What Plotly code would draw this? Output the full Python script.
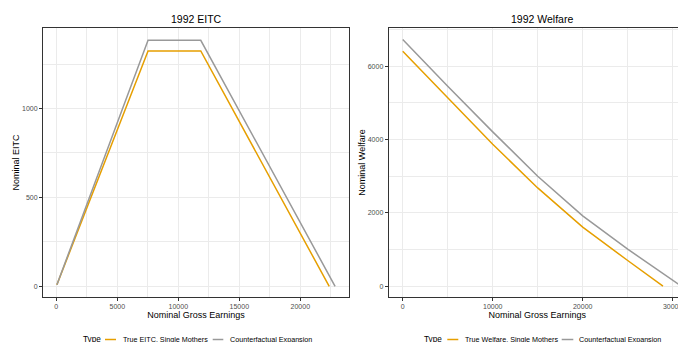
import plotly.graph_objects as go

# ---- data ----
eitc_earn_true = [50, 7520, 11840, 22370]
eitc_true = [9, 1324, 1324, 0]
eitc_earn_cf = [50, 7520, 11840, 22850]
eitc_cf = [9, 1384, 1384, 0]

wel_earn_true = [0, 5000, 10000, 15000, 20000, 25000, 28920]
wel_true = [6410, 5140, 3870, 2680, 1610, 700, 0]
wel_earn_cf = [0, 5000, 10000, 15000, 20000, 25000, 30970]
wel_cf = [6730, 5455, 4210, 3000, 1920, 1010, 0]

titles = ["1992 EITC", "1992 Welfare"]
legend_title = "Type"
left_names = ["True EITC, Single Mothers", "Counterfactual Expansion"]
right_names = ["True Welfare, Single Mothers", "Counterfactual Expansion"]

ORANGE = "#E69F00"
GREY = "#999999"
FONT = "Liberation Sans, Arial, sans-serif"

fig = go.Figure()
fig.add_trace(go.Scatter(x=eitc_earn_true, y=eitc_true, mode="lines", name=left_names[0],
                         line=dict(color=ORANGE, width=1.5), xaxis="x", yaxis="y", showlegend=False))
fig.add_trace(go.Scatter(x=eitc_earn_cf, y=eitc_cf, mode="lines", name=left_names[1],
                         line=dict(color=GREY, width=1.5), xaxis="x", yaxis="y", showlegend=False))
fig.add_trace(go.Scatter(x=wel_earn_true, y=wel_true, mode="lines", name=right_names[0],
                         line=dict(color=ORANGE, width=1.5), xaxis="x2", yaxis="y2", showlegend=False))
fig.add_trace(go.Scatter(x=wel_earn_cf, y=wel_cf, mode="lines", name=right_names[1],
                         line=dict(color=GREY, width=1.5), xaxis="x2", yaxis="y2", showlegend=False))

# the page body has an 8px margin: work in page pixels and shift
OFF = 8
W, H = 686 - OFF, 342 - OFF
L = 43 - OFF
T = 28 - OFF
B = H - (297 - OFF)
R = 0
pw = W - L - R
ph = H - T - B
def px_x(px):
    return (px - OFF - L) / pw
def px_y(py):
    return (H - B - (py - OFF)) / ph

grid = "#EBEBEB"
axis_common = dict(
    showgrid=True, gridcolor=grid, gridwidth=1, zeroline=False,
    showline=True, linecolor="#333333", linewidth=1,
    ticks="outside", ticklen=3, tickwidth=1, tickcolor="#333333",
    tickformat="d", ticklabeloverflow="allow",
    tickfont=dict(size=7, color="#4D4D4D", family=FONT),
    title_font=dict(size=9, color="#000000", family=FONT),
    automargin=False,
)

annotations = [
    dict(text=titles[0], x=px_x(196), y=px_y(19), xref="paper", yref="paper",
         xanchor="center", yanchor="middle", showarrow=False,
         font=dict(size=10.5, color="#000000", family=FONT)),
    dict(text=titles[1], x=px_x(542), y=px_y(19), xref="paper", yref="paper",
         xanchor="center", yanchor="middle", showarrow=False,
         font=dict(size=10.5, color="#000000", family=FONT)),
]
shapes = []

# manual legends (one per panel), positions in page pixels
leg_y = 339.5
legend_specs = [
    (81.7, [(105, 116, ORANGE, 121.7, left_names[0]), (212.7, 223.3, GREY, 229.3, left_names[1])]),
    (422.7, [(447.3, 458.3, ORANGE, 464, right_names[0]), (561.7, 573.3, GREY, 578.3, right_names[1])]),
]
for title_x, items in legend_specs:
    annotations.append(dict(text=legend_title, x=px_x(title_x), y=px_y(leg_y), xref="paper", yref="paper",
                            xanchor="left", yanchor="middle", showarrow=False, borderpad=0,
                            font=dict(size=8.2, color="#000000", family=FONT)))
    for x0, x1, col, tx, name in items:
        shapes.append(dict(type="line", xref="paper", yref="paper",
                           x0=px_x(x0), x1=px_x(x1), y0=px_y(leg_y), y1=px_y(leg_y),
                           line=dict(color=col, width=1.5)))
        annotations.append(dict(text=name, x=px_x(tx), y=px_y(leg_y), xref="paper", yref="paper",
                                xanchor="left", yanchor="middle", showarrow=False, borderpad=0,
                                font=dict(size=7.2, color="#000000", family=FONT)))

fig.update_layout(
    width=W, height=H,
    margin=dict(l=L, r=R, t=T, b=B, autoexpand=False),
    paper_bgcolor="white", plot_bgcolor="white",
    font=dict(family=FONT),
    showlegend=False,
    xaxis=dict(axis_common, domain=[0, px_x(349)], range=[-1090, 23990],
               tick0=0, dtick=5000, mirror=True, anchor="y",
               minor=dict(dtick=2500, showgrid=True, gridcolor=grid, gridwidth=1),
               title=dict(text="Nominal Gross Earnings", standoff=2)),
    yaxis=dict(axis_common, domain=[0, 1], range=[-60, 1453], tick0=0, dtick=500,
               mirror=True, anchor="x",
               minor=dict(dtick=250, showgrid=True, gridcolor=grid, gridwidth=1),
               title=dict(text="Nominal EITC", standoff=0)),
    xaxis2=dict(axis_common, domain=[px_x(388.7), 1], range=[-1560, 31480],
                tick0=0, dtick=10000, mirror=True, anchor="y2",
                minor=dict(dtick=5000, showgrid=True, gridcolor=grid, gridwidth=1),
                title=dict(text="Nominal Gross Earnings", standoff=2)),
    yaxis2=dict(axis_common, domain=[0, 1], range=[-295, 7043], tick0=0, dtick=2000,
                mirror=False, anchor="x2",
                minor=dict(dtick=1000, showgrid=True, gridcolor=grid, gridwidth=1),
                title=dict(text="Nominal Welfare", standoff=0)),
    annotations=annotations,
    shapes=shapes,
)

fig.write_html("out.html")
